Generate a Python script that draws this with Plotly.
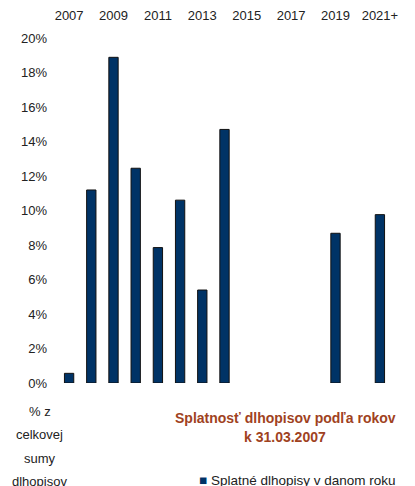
import plotly.graph_objects as go

years = ['2007', '2008', '2009', '2010', '2011', '2012', '2013', '2014',
         '2015', '2016', '2017', '2018', '2019', '2020', '2021+']
share = [0.0056, 0.1119, 0.1888, 0.1245, 0.0785, 0.1060, 0.0539, 0.1470,
         None, None, None, None, 0.0868, None, 0.0976]
shown_ticks = ['2007', '2009', '2011', '2013', '2015', '2017', '2019', '2021+']
ylabel_lines = ['% z', 'celkovej', 'sumy', 'dlhopisov']
title_lines = ['Splatnosť dlhopisov podľa rokov', 'k 31.03.2007']
series_name = 'Splatné dlhopisy v danom roku'

fig = go.Figure()
fig.add_trace(go.Bar(
    x=years, y=share,
    name=series_name,
    marker=dict(color='#003366', line=dict(color='#111111', width=1)),
    width=0.42,
    showlegend=False,
))

# page has an 8px body margin, so margins are shifted by -8
fig.update_layout(
    width=415, height=486,
    margin=dict(l=50, r=32, t=30, b=111, autoexpand=False),
    paper_bgcolor='white', plot_bgcolor='white',
    font=dict(family='Liberation Sans, Arial', size=13, color='#222222'),
    xaxis=dict(side='top', type='category', tickvals=shown_ticks,
               showline=False, showgrid=False, ticks='', ticklabelstandoff=14),
    yaxis=dict(range=[0, 0.2], tickformat='.0%', dtick=0.02,
               showline=False, showgrid=False, zeroline=False, ticks='',
               ticklabelstandoff=10),
)

# left caption, one annotation per line for wider line spacing
for i, line in enumerate(ylabel_lines):
    fig.add_annotation(text=line, x=-0.055, y=-0.084 - i * 0.0667,
                       xref='paper', yref='paper', xanchor='center', yanchor='middle',
                       showarrow=False, font=dict(size=13))

for i, line in enumerate(title_lines):
    fig.add_annotation(text='<b>' + line + '</b>', x=0.682, y=-0.101 - i * 0.055,
                       xref='paper', yref='paper', xanchor='center', yanchor='middle',
                       showarrow=False, font=dict(size=14, color='#A0421E'))

# legend entry
fig.add_annotation(text='<span style="color:#003366">■</span> ' + series_name,
                   x=0.417, y=-0.284, xref='paper', yref='paper',
                   xanchor='left', yanchor='middle', showarrow=False,
                   font=dict(size=13.5))

fig.write_html("out.html")
